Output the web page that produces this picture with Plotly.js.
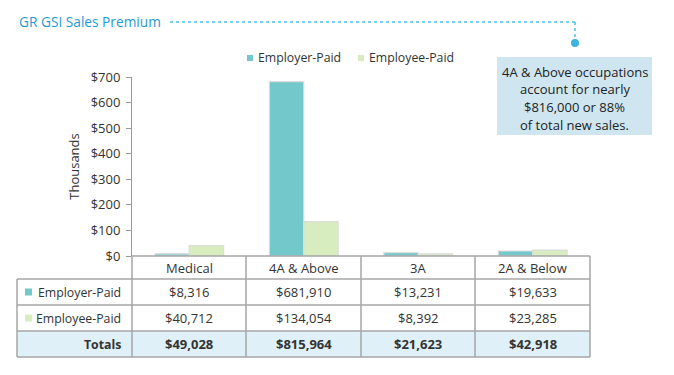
<!DOCTYPE html>
<html><head><meta charset="utf-8">
<script src="https://cdn.plot.ly/plotly-3.0.1.min.js"></script>
<style>body{margin:0;padding:0;background:#fff}#chart{width:674px;height:375px}</style>
</head><body><div id="chart"></div>
<script>
const categories = ["Medical", "4A & Above", "3A", "2A & Below"];
const employerPaid = [8316, 681910, 13231, 19633];
const employeePaid = [40712, 134054, 8392, 23285];
const seriesNames = ["Employer-Paid", "Employee-Paid"];
const yTickVals = [0, 100, 200, 300, 400, 500, 600, 700];
const yTickText = ["$0", "$100", "$200", "$300", "$400", "$500", "$600", "$700"];
const titleText = "GR GSI Sales Premium";
const calloutLines = ["4A & Above occupations", "account for nearly", "$816,000 or 88%", "of total new sales."];

const FONT = "Open Sans, sans-serif";
const FS = 13;
const TEAL = "#72c8ca", GREEN = "#d7edbf";
const L = 132, R = 590, T = 77, B = 256, W = 674, H = 375;
const px = x => (x - L) / (R - L);
const py = y => (B - y) / (B - T);
const fmt = v => "$" + v.toLocaleString("en-US");
const totals = employerPaid.map((v, i) => v + employeePaid[i]);

const traces = [
  {type: "bar", name: seriesNames[0], x: categories, y: employerPaid.map(v => v / 1000),
   marker: {color: TEAL, line: {color: "#dcdcdc", width: 1.2}}, hoverinfo: "skip", showlegend: false},
  {type: "bar", name: seriesNames[1], x: categories, y: employeePaid.map(v => v / 1000),
   marker: {color: GREEN, line: {color: "#dcdcdc", width: 1.2}}, hoverinfo: "skip", showlegend: false}
];

const shapes = [];
const annotations = [];
const lineC = "#a6a6a6";
const colX = [17, 132, 246, 361, 475, 590];
const rowY = [256, 279, 305, 331, 357];
shapes.push({type: "rect", xref: "paper", yref: "paper", x0: px(17), x1: px(590), y0: py(331), y1: py(357),
  fillcolor: "#dff0f8", line: {width: 0}, layer: "below"});
shapes.push({type: "line", xref: "paper", yref: "paper", x0: px(132), x1: px(590), y0: py(256), y1: py(256), line: {color: lineC, width: 1.5}});
for (let r = 1; r < rowY.length; r++) {
  shapes.push({type: "line", xref: "paper", yref: "paper", x0: px(17), x1: px(590), y0: py(rowY[r]), y1: py(rowY[r]), line: {color: lineC, width: 1.5}});
}
for (let c = 0; c < colX.length; c++) {
  const top = c === 0 ? 279 : 256;
  shapes.push({type: "line", xref: "paper", yref: "paper", x0: px(colX[c]), x1: px(colX[c]), y0: py(top), y1: py(357), line: {color: lineC, width: 1.5}});
}
categories.forEach((c, i) => {
  annotations.push({xref: "paper", yref: "paper", x: px((colX[i + 1] + colX[i + 2]) / 2), y: py(268),
    text: c, showarrow: false, font: {family: FONT, size: FS, color: "#333"}, xanchor: "center", yanchor: "middle"});
});
const rows = [employerPaid, employeePaid, totals];
const rowLabels = [seriesNames[0], seriesNames[1], "<b>Totals</b>"];
const rowColors = [TEAL, GREEN, null];
rows.forEach((vals, r) => {
  const yc = (rowY[r + 1] + rowY[r + 2]) / 2;
  annotations.push({xref: "paper", yref: "paper", x: px(123), y: py(yc), text: rowLabels[r], showarrow: false,
    font: {family: FONT, size: 12.3, color: "#333"}, xanchor: "right", yanchor: "middle"});
  if (rowColors[r]) {
    shapes.push({type: "rect", xref: "paper", yref: "paper", x0: px(25), x1: px(32), y0: py(yc - 3.5), y1: py(yc + 3.5),
      fillcolor: rowColors[r], line: {width: 0}});
  }
  vals.forEach((v, i) => {
    annotations.push({xref: "paper", yref: "paper", x: px((colX[i + 1] + colX[i + 2]) / 2), y: py(yc),
      text: r === 2 ? "<b>" + fmt(v) + "</b>" : fmt(v), showarrow: false,
      font: {family: FONT, size: FS, color: "#333"}, xanchor: "center", yanchor: "middle"});
  });
});
const legX = [247, 358];
const legColors = [TEAL, GREEN];
seriesNames.forEach((n, i) => {
  shapes.push({type: "rect", xref: "paper", yref: "paper", x0: px(legX[i]), x1: px(legX[i] + 6), y0: py(61), y1: py(55),
    fillcolor: legColors[i], line: {width: 0}});
  annotations.push({xref: "paper", yref: "paper", x: px(legX[i] + 9), y: py(58), text: n, showarrow: false,
    font: {family: FONT, size: 12.3, color: "#333"}, xanchor: "left", yanchor: "middle"});
});
annotations.push({xref: "paper", yref: "paper", x: px(17), y: py(22), text: titleText, showarrow: false,
  font: {family: FONT, size: 13.7, color: "#1e9ad6"}, xanchor: "left", yanchor: "middle"});
const dotC = "#4dbfe2";
shapes.push({type: "line", xref: "paper", yref: "paper", x0: px(170), x1: px(575), y0: py(22), y1: py(22), line: {color: dotC, width: 1.5, dash: "dot"}});
shapes.push({type: "line", xref: "paper", yref: "paper", x0: px(575), x1: px(575), y0: py(22), y1: py(40), line: {color: dotC, width: 1.5, dash: "dot"}});
shapes.push({type: "circle", xref: "paper", yref: "paper", x0: px(571), x1: px(579), y0: py(39), y1: py(47), fillcolor: "#3bb3e0", line: {width: 0}});
shapes.push({type: "rect", xref: "paper", yref: "paper", x0: px(497), x1: px(652), y0: py(57), y1: py(135), fillcolor: "#cfe6f1", line: {width: 0}});
const calloutY = [72, 89.5, 107, 124.5];
calloutLines.forEach((t, i) => {
  annotations.push({xref: "paper", yref: "paper", x: px(574.5), y: py(calloutY[i]), text: t, showarrow: false,
    font: {family: FONT, size: FS, color: "#222"}, xanchor: "center", yanchor: "middle"});
});

const layout = {
  width: W, height: H,
  margin: {l: L, r: W - R, t: T, b: H - B, pad: 0},
  paper_bgcolor: "#fff", plot_bgcolor: "#fff",
  font: {family: FONT, size: FS, color: "#333"},
  barmode: "group", bargap: 0.4, bargroupgap: 0,
  showlegend: false,
  xaxis: {showticklabels: false, ticks: "", showgrid: false, zeroline: false, showline: false, fixedrange: true},
  yaxis: {range: [0, 700], tickvals: yTickVals, ticktext: yTickText, ticks: "outside", ticklen: 5, tickcolor: "#999",
    ticklabelstandoff: 3,
    showline: true, linecolor: "#999", linewidth: 1, showgrid: false, zeroline: false,
    tickfont: {family: FONT, size: FS, color: "#333"},
    title: {text: "Thousands", font: {family: FONT, size: FS, color: "#333"}, standoff: 8}},
  shapes, annotations
};
Plotly.newPlot("chart", traces, layout, {displayModeBar: false, staticPlot: true});
</script></body></html>
